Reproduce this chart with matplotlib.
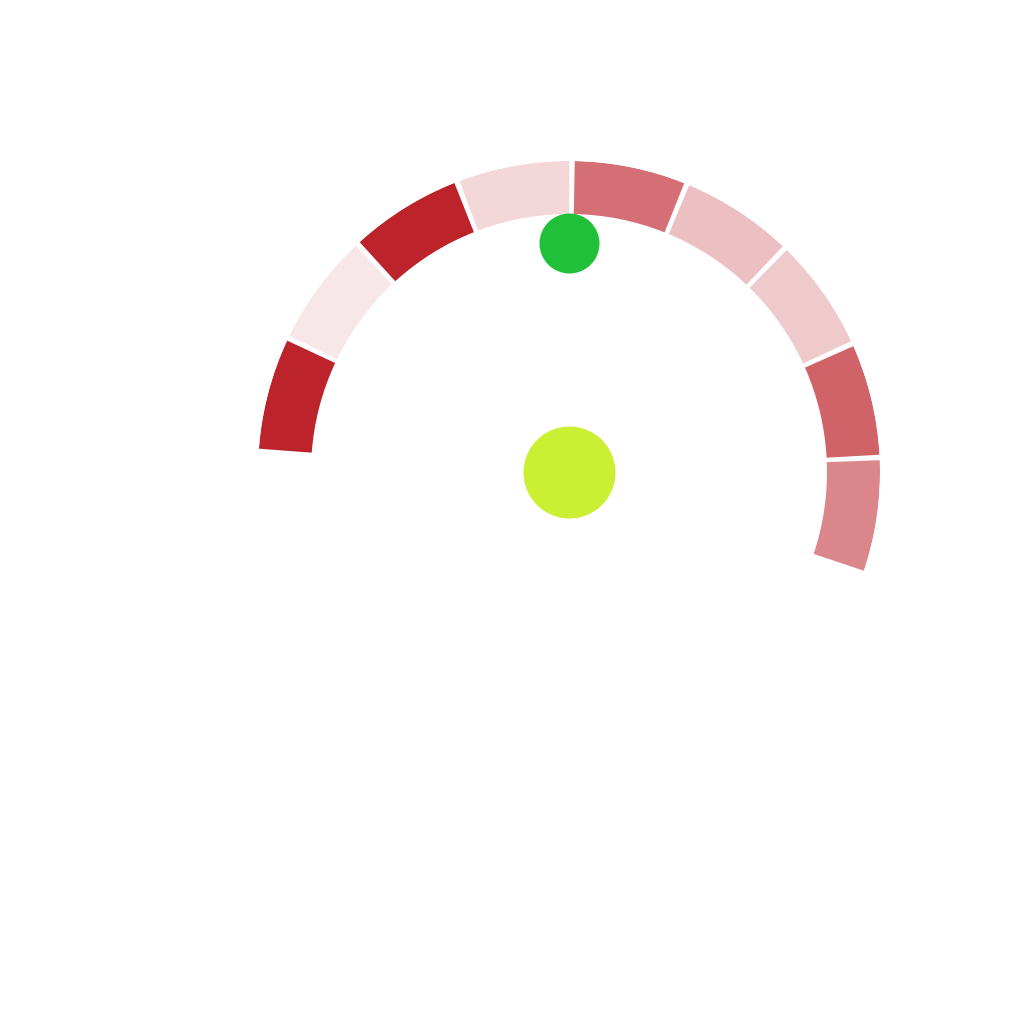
import numpy as np
from matplotlib import pyplot as plt

# gauge bands: intensity of each band (0..1), left to right
band_levels = [1.0, 0.11, 1.0, 0.18, 0.65, 0.29, 0.24, 0.71, 0.55]
pointer_value = 3.97   # in band units, 0 = left end
base_red = np.array([189, 35, 43]) / 255.0

start_deg = 176.2
step_deg = 21.69
gap_deg = 1.0
r_in, r_out = 258, 311
cx, cy = 569, 1024 - 472

fig = plt.figure(figsize=(10.24, 10.24), dpi=100)
ax = fig.add_axes([(cx - r_out) / 1024, (cy - r_out) / 1024, 2 * r_out / 1024, 2 * r_out / 1024],
                  projection='polar')
ax.set_ylim(0, r_out)
ax.axis('off')

colors = [tuple(1 - a * (1 - base_red)) for a in band_levels]
centers = np.radians([start_deg - (i + 0.5) * step_deg for i in range(len(band_levels))])
ax.bar(centers, r_out - r_in, width=np.radians(step_deg - gap_deg), bottom=r_in,
       color=colors, edgecolor='none')

# pointer dot and hub
ptr = np.radians(start_deg - pointer_value * step_deg)
ax.scatter([ptr], [229], s=(60 * 0.72) ** 2, color='#20c138', zorder=3, linewidths=0)
ax.scatter([0], [0], s=(92 * 0.72) ** 2, color='#cbef33', zorder=3, linewidths=0)

plt.savefig('out.png', dpi=100)
